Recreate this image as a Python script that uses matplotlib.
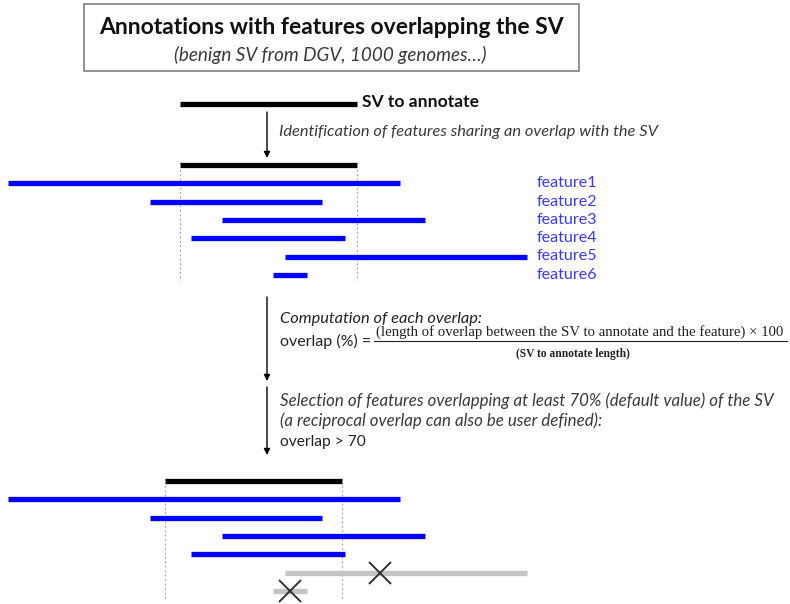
import matplotlib
matplotlib.use("Agg")
import matplotlib.pyplot as plt
from matplotlib.patches import Rectangle

# -----------------------------
# Data (pixel-like units, y grows downward)
# -----------------------------
feature_names = ["feature1", "feature2", "feature3", "feature4", "feature5", "feature6"]
feature_starts = [8, 150, 222, 191, 285, 273]
feature_ends = [400, 322, 425, 345, 527, 307]
kept = [True, True, True, True, False, False]
reject_marks = [None, None, None, None, 380, 290]

sv_top = (180, 357)
sv_mid = (180, 357)
sv_bottom = (165, 342)

ROW_STEP = 18.3
MID_BASE = 165
BOTTOM_BASE = 481

# -----------------------------
# Style
# -----------------------------
FONT = "Lato"
BLUE = "#0000ff"
LABEL_BLUE = "#3a3aff"
GRAY_LINE = "#c4c4c4"
TEXT_DARK = "#3a3a3a"
LW = 3.8

fig = plt.figure(figsize=(7.9, 6.04), dpi=100)
ax = fig.add_axes([0, 0, 1, 1])
ax.set_xlim(0, 790)
ax.set_ylim(604, 0)
ax.axis("off")

# -----------------------------
# Title box
# -----------------------------
ax.add_patch(Rectangle((84, 4), 495, 67, fill=False, edgecolor="#8a8a8a", linewidth=1.3))
ax.text(331, 27, "Annotations with features overlapping the SV", family=FONT,
        fontweight="bold", fontsize=16.5, ha="center", va="center", color="#111111")
ax.text(330, 55, "(benign SV from DGV, 1000 genomes…)", family=FONT, style="italic",
        fontsize=13.6, ha="center", va="center", color=TEXT_DARK)

# -----------------------------
# SV to annotate
# -----------------------------
ax.plot(sv_top, [104, 104], color="black", linewidth=LW, solid_capstyle="butt")
ax.text(362, 102, "SV to annotate", family=FONT, fontweight="bold", fontsize=12.6,
        ha="left", va="center", color="#111111")


def arrow(x, y0, y1):
    ax.annotate("", xy=(x, y1), xytext=(x, y0),
                arrowprops=dict(arrowstyle="-|>", color="black", lw=1.0,
                                mutation_scale=9, shrinkA=0, shrinkB=0))


arrow(267, 112, 158)
ax.text(279, 132, "Identification of features sharing an overlap with the SV", family=FONT,
        style="italic", fontsize=11.8, ha="left", va="center", color=TEXT_DARK)


def draw_features(base, sv, filtered, vline_end):
    ax.plot(sv, [base, base], color="black", linewidth=LW, solid_capstyle="butt")
    for xv in sv:
        ax.plot([xv, xv], [base, vline_end], color="#9a9a9a", linewidth=0.8,
                linestyle=(0, (1.5, 2.5)))
    for i, (s, e) in enumerate(zip(feature_starts, feature_ends)):
        y = base + ROW_STEP * (i + 1)
        color = BLUE
        if filtered and not kept[i]:
            color = GRAY_LINE
        ax.plot([s, e], [y, y], color=color, linewidth=LW, solid_capstyle="butt")
        if filtered and reject_marks[i] is not None:
            ax.plot(reject_marks[i], y, marker="x", markersize=16, markeredgewidth=1.4,
                    color="#333333")
        if not filtered:
            ax.text(537, y, feature_names[i], family=FONT, fontsize=11.6, ha="left",
                    va="center", color=LABEL_BLUE)


draw_features(MID_BASE, sv_mid, False, 281)

# -----------------------------
# Overlap computation
# -----------------------------
arrow(267, 297, 381)
ax.text(280, 319, "Computation of each overlap:", family=FONT, style="italic",
        fontsize=11.8, ha="left", va="center", color="#222222")
ax.text(280, 341, "overlap (%) =", family=FONT, fontsize=11.5, ha="left",
        va="center", color="#222222")
ax.text(580, 332, "(length of overlap between the SV to annotate and the feature) \u00d7 100",
        family="Liberation Serif", fontsize=10.6, ha="center", va="center", color="#222222")
ax.plot([374, 787], [341, 341], color="#222222", linewidth=0.8)
ax.text(573, 354, "(SV to annotate length)", family="Liberation Serif", fontweight="bold",
        fontsize=8.3, ha="center", va="center", color="#222222")

# -----------------------------
# Selection
# -----------------------------
arrow(267, 387, 455)
ax.text(280, 401, "Selection of features overlapping at least 70% (default value) of the SV",
        family=FONT, style="italic", fontsize=12.2, ha="left", va="center", color=TEXT_DARK)
ax.text(280, 421, "(a reciprocal overlap can also be user defined):", family=FONT,
        style="italic", fontsize=12.2, ha="left", va="center", color=TEXT_DARK)
ax.text(280, 442, "overlap > 70", family=FONT, fontsize=11.2, ha="left", va="center",
        color="#222222")

draw_features(BOTTOM_BASE, sv_bottom, True, 599)

fig.savefig("out.png", dpi=100)
